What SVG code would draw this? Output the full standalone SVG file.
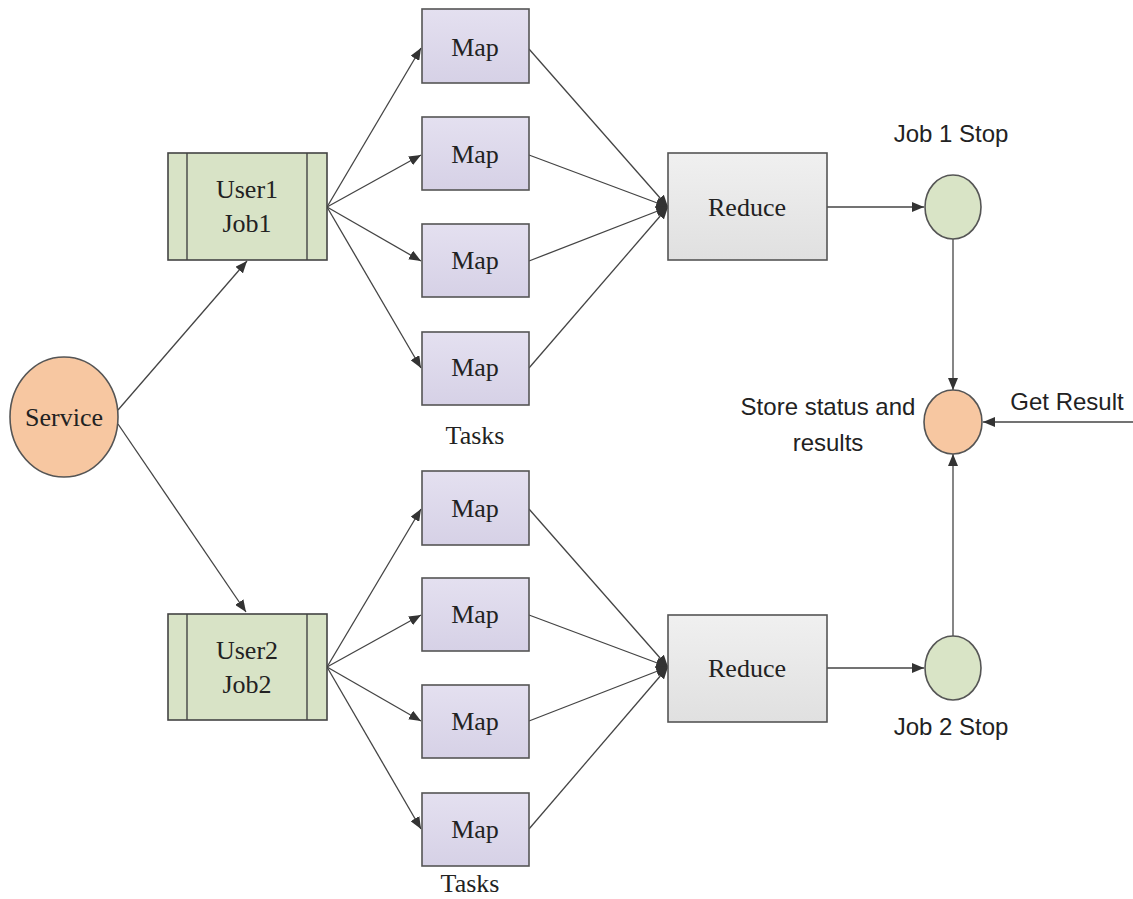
<svg xmlns="http://www.w3.org/2000/svg" width="1133" height="899" viewBox="0 0 1133 899">
<style>
.serif{font-family:"Liberation Serif","Times New Roman",serif;font-size:26px;fill:#222;text-anchor:middle}
.sans{font-family:"Liberation Sans",Arial,sans-serif;font-size:24px;fill:#222;text-anchor:middle}
.map{fill:url(#gMap);stroke:#555;stroke-width:1.6}
.red{fill:url(#gRed);stroke:#555;stroke-width:1.6}
.usr{fill:#d8e3c6;stroke:#444;stroke-width:1.6}
.peach{fill:#f7c7a1;stroke:#555;stroke-width:1.6}
.green{fill:#d9e4c6;stroke:#555;stroke-width:1.6}
.edge{stroke:#444;stroke-width:1.3;fill:none;marker-end:url(#arr)}
</style>
<defs>
<marker id="arr" viewBox="0 0 12 10" refX="12" refY="5" markerWidth="12" markerHeight="10" markerUnits="userSpaceOnUse" orient="auto">
<path d="M0,0 L12,5 L0,10 Z" fill="#333"/>
</marker>
<linearGradient id="gMap" x1="0" y1="0" x2="0" y2="1"><stop offset="0" stop-color="#e4e0f0"/><stop offset="1" stop-color="#d6d1e6"/></linearGradient>
<linearGradient id="gRed" x1="0" y1="0" x2="0" y2="1"><stop offset="0" stop-color="#f0f0f0"/><stop offset="1" stop-color="#e0e0e0"/></linearGradient>
</defs>
<rect width="1133" height="899" fill="#fff"/>
<g id="connectors">
<line class="edge" x1="118" y1="410" x2="247" y2="261"/>
<line class="edge" x1="118" y1="424" x2="246" y2="612"/>
<line class="edge" x1="327" y1="207" x2="421" y2="48"/>
<line class="edge" x1="327" y1="207" x2="421" y2="155"/>
<line class="edge" x1="327" y1="207" x2="421" y2="261"/>
<line class="edge" x1="327" y1="207" x2="421" y2="368"/>
<line class="edge" x1="529" y1="49" x2="668" y2="207"/>
<line class="edge" x1="529" y1="155" x2="668" y2="207"/>
<line class="edge" x1="529" y1="261" x2="668" y2="207"/>
<line class="edge" x1="529" y1="368" x2="668" y2="207"/>
<line class="edge" x1="327" y1="667" x2="421" y2="509"/>
<line class="edge" x1="327" y1="667" x2="421" y2="615"/>
<line class="edge" x1="327" y1="667" x2="421" y2="721"/>
<line class="edge" x1="327" y1="667" x2="421" y2="829"/>
<line class="edge" x1="529" y1="509" x2="668" y2="667"/>
<line class="edge" x1="529" y1="615" x2="668" y2="667"/>
<line class="edge" x1="529" y1="721" x2="668" y2="667"/>
<line class="edge" x1="529" y1="829" x2="668" y2="667"/>
<line class="edge" x1="827" y1="207" x2="924" y2="207"/>
<line class="edge" x1="827" y1="668" x2="924" y2="668"/>
<line class="edge" x1="953" y1="239" x2="953" y2="390"/>
<line class="edge" x1="953" y1="636" x2="953" y2="454"/>
<line class="edge" x1="1133" y1="422" x2="983" y2="422"/>
</g>
<g id="service"><ellipse class="peach" cx="64" cy="417" rx="54" ry="60"/><text class="serif" x="64" y="426">Service</text></g>
<g id="user1"><rect class="usr" x="168" y="153" width="159" height="107"/><line x1="187" y1="153" x2="187" y2="260" stroke="#444" stroke-width="1.4"/><line x1="307" y1="153" x2="307" y2="260" stroke="#444" stroke-width="1.4"/><text class="serif" x="247" y="198">User1</text><text class="serif" x="247" y="232">Job1</text></g>
<g id="user2"><rect class="usr" x="168" y="614" width="159" height="106"/><line x1="187" y1="614" x2="187" y2="720" stroke="#444" stroke-width="1.4"/><line x1="307" y1="614" x2="307" y2="720" stroke="#444" stroke-width="1.4"/><text class="serif" x="247" y="659">User2</text><text class="serif" x="247" y="693">Job2</text></g>
<g id="map1"><rect class="map" x="422" y="9" width="107" height="74"/><text class="serif" x="475" y="56">Map</text></g>
<g id="map2"><rect class="map" x="422" y="117" width="107" height="73"/><text class="serif" x="475" y="163">Map</text></g>
<g id="map3"><rect class="map" x="422" y="224" width="107" height="73"/><text class="serif" x="475" y="269">Map</text></g>
<g id="map4"><rect class="map" x="422" y="332" width="107" height="73"/><text class="serif" x="475" y="376">Map</text></g>
<g id="map5"><rect class="map" x="422" y="471" width="107" height="74"/><text class="serif" x="475" y="517">Map</text></g>
<g id="map6"><rect class="map" x="422" y="578" width="107" height="73"/><text class="serif" x="475" y="623">Map</text></g>
<g id="map7"><rect class="map" x="422" y="685" width="107" height="73"/><text class="serif" x="475" y="730">Map</text></g>
<g id="map8"><rect class="map" x="422" y="793" width="107" height="73"/><text class="serif" x="475" y="838">Map</text></g>
<g id="tasks1"><text class="serif" x="475" y="444">Tasks</text></g>
<g id="tasks2"><text class="serif" x="470" y="892">Tasks</text></g>
<g id="reduce1"><rect class="red" x="668" y="153" width="159" height="107"/><text class="serif" x="747" y="216">Reduce</text></g>
<g id="reduce2"><rect class="red" x="668" y="615" width="159" height="107"/><text class="serif" x="747" y="677">Reduce</text></g>
<g id="job1stop"><ellipse class="green" cx="953" cy="207" rx="28" ry="32"/><text class="sans" x="951" y="142">Job 1 Stop</text></g>
<g id="job2stop"><ellipse class="green" cx="953" cy="668" rx="28" ry="32"/><text class="sans" x="951" y="735">Job 2 Stop</text></g>
<g id="store"><ellipse class="peach" cx="953" cy="422" rx="29" ry="32"/><text class="sans" x="828" y="415">Store status and</text><text class="sans" x="828" y="451">results</text></g>
<g id="getresult"><text class="sans" x="1067" y="410">Get Result</text></g>
</svg>
